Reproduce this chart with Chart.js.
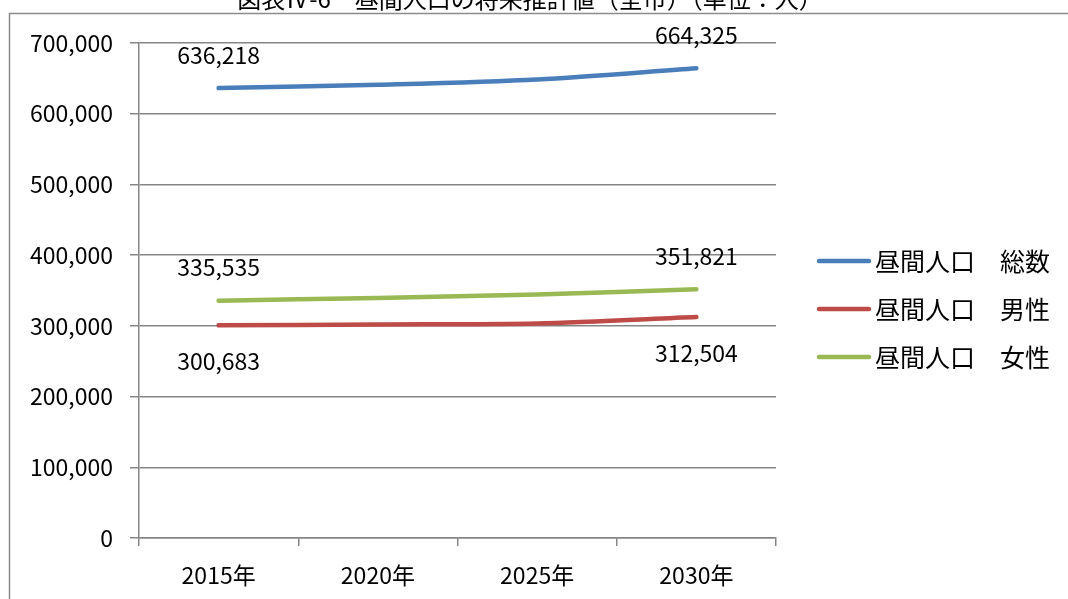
<!DOCTYPE html>
<html lang="ja">
<head>
<meta charset="utf-8">
<title>昼間人口の将来推計値</title>
<script src="https://cdn.jsdelivr.net/npm/chart.js@4"></script>
<style>
  html, body { margin: 0; padding: 0; background: #fff; }
  #wrap { width: 1068px; height: 599px; }
</style>
</head>
<body>
<div id="wrap"><canvas id="grafico" width="1068" height="599"></canvas></div>
<script>
// Dados do gráfico
const titulo = '図表Ⅳ-6　昼間人口の将来推計値（全市）（単位：人）';
const anos = ['2015年', '2020年', '2025年', '2030年'];
const nomesSeries = ['昼間人口　総数', '昼間人口　男性', '昼間人口　女性'];
const totalPop = [636218, 641000, 648500, 664325];
const masculino = [300683, 302000, 303500, 312504];
const feminino = [335535, 339500, 344500, 351821];
const ticksY = [0, 100000, 200000, 300000, 400000, 500000, 600000, 700000];

const cores = ['#4a7ebb', '#be4b48', '#98b954'];
const fonte = '"Noto Sans CJK JP", "Noto Sans", sans-serif';

// Moldura e título (cortado no topo, como no original)
const molduraPlugin = {
  id: 'moldura',
  beforeDraw(chart) {
    const ctx = chart.ctx;
    ctx.save();
    ctx.strokeStyle = '#8c8c8c';
    ctx.lineWidth = 1.5;
    ctx.beginPath();
    ctx.moveTo(9.5, 700);
    ctx.lineTo(9.5, 13.5);
    ctx.lineTo(1100, 13.5);
    ctx.stroke();
    ctx.fillStyle = '#000';
    ctx.font = '24px ' + fonte;
    ctx.textAlign = 'center';
    ctx.textBaseline = 'middle';
    ctx.fillText(titulo, 530, -1);
    ctx.restore();
  }
};

// Rótulos de dados só no primeiro e último ponto
const rotulosPlugin = {
  id: 'rotulos',
  afterDatasetsDraw(chart) {
    const ctx = chart.ctx;
    ctx.save();
    ctx.fillStyle = '#000';
    ctx.font = '23px ' + fonte;
    ctx.textAlign = 'center';
    ctx.textBaseline = 'middle';
    chart.data.datasets.forEach((ds, i) => {
      const meta = chart.getDatasetMeta(i);
      const abaixo = i === 1;
      [0, ds.data.length - 1].forEach(idx => {
        const p = meta.data[idx];
        const dy = abaixo ? 36 : -33;
        ctx.fillText(ds.data[idx].toLocaleString('en-US'), p.x, p.y + dy);
      });
    });
    ctx.restore();
  }
};

// Legenda desenhada à direita
const legendaPlugin = {
  id: 'legenda',
  afterDraw(chart) {
    const ctx = chart.ctx;
    ctx.save();
    ctx.font = '25px ' + fonte;
    ctx.textBaseline = 'middle';
    ctx.textAlign = 'left';
    chart.data.datasets.forEach((ds, i) => {
      const y = 261 + i * 48;
      ctx.strokeStyle = ds.borderColor;
      ctx.lineWidth = 4.5;
      ctx.lineCap = 'round';
      ctx.beginPath();
      ctx.moveTo(819, y);
      ctx.lineTo(869, y);
      ctx.stroke();
      ctx.fillStyle = '#000';
      ctx.fillText(ds.label, 875, y);
    });
    ctx.restore();
  }
};

const valores = [totalPop, masculino, feminino];

new Chart(document.getElementById('grafico'), {
  type: 'line',
  data: {
    labels: anos,
    datasets: nomesSeries.map((nome, i) => ({
      label: nome,
      data: valores[i],
      borderColor: cores[i],
      backgroundColor: cores[i],
      borderWidth: 4.5,
      borderCapStyle: 'round',
      pointRadius: 0,
      tension: 0.3
    }))
  },
  options: {
    responsive: false,
    animation: false,
    layout: { padding: { top: 43, right: 292, left: 0, bottom: 0 } },
    plugins: {
      legend: { display: false },
      title: { display: false },
      tooltip: { enabled: false }
    },
    scales: {
      x: {
        offset: true,
        grid: {
          offset: true,
          drawOnChartArea: false,
          color: '#868686',
          tickLength: 8,
          lineWidth: 1.5
        },
        border: { color: '#868686', width: 1.5 },
        ticks: {
          color: '#000',
          font: { size: 23, family: fonte },
          padding: 15,
          maxRotation: 0
        },
        afterFit: scale => { scale.height = 61; }
      },
      y: {
        min: 0,
        max: 700000,
        afterBuildTicks: scale => { scale.ticks = ticksY.map(v => ({ value: v })); },
        grid: {
          color: '#868686',
          lineWidth: 1.5,
          tickLength: 9
        },
        border: { color: '#868686', width: 1.5 },
        ticks: {
          color: '#000',
          font: { size: 23, family: fonte },
          padding: 17,
          callback: v => v.toLocaleString('en-US')
        },
        afterFit: scale => { scale.width = 139; }
      }
    }
  },
  plugins: [molduraPlugin, rotulosPlugin, legendaPlugin]
});
</script>
</body>
</html>
